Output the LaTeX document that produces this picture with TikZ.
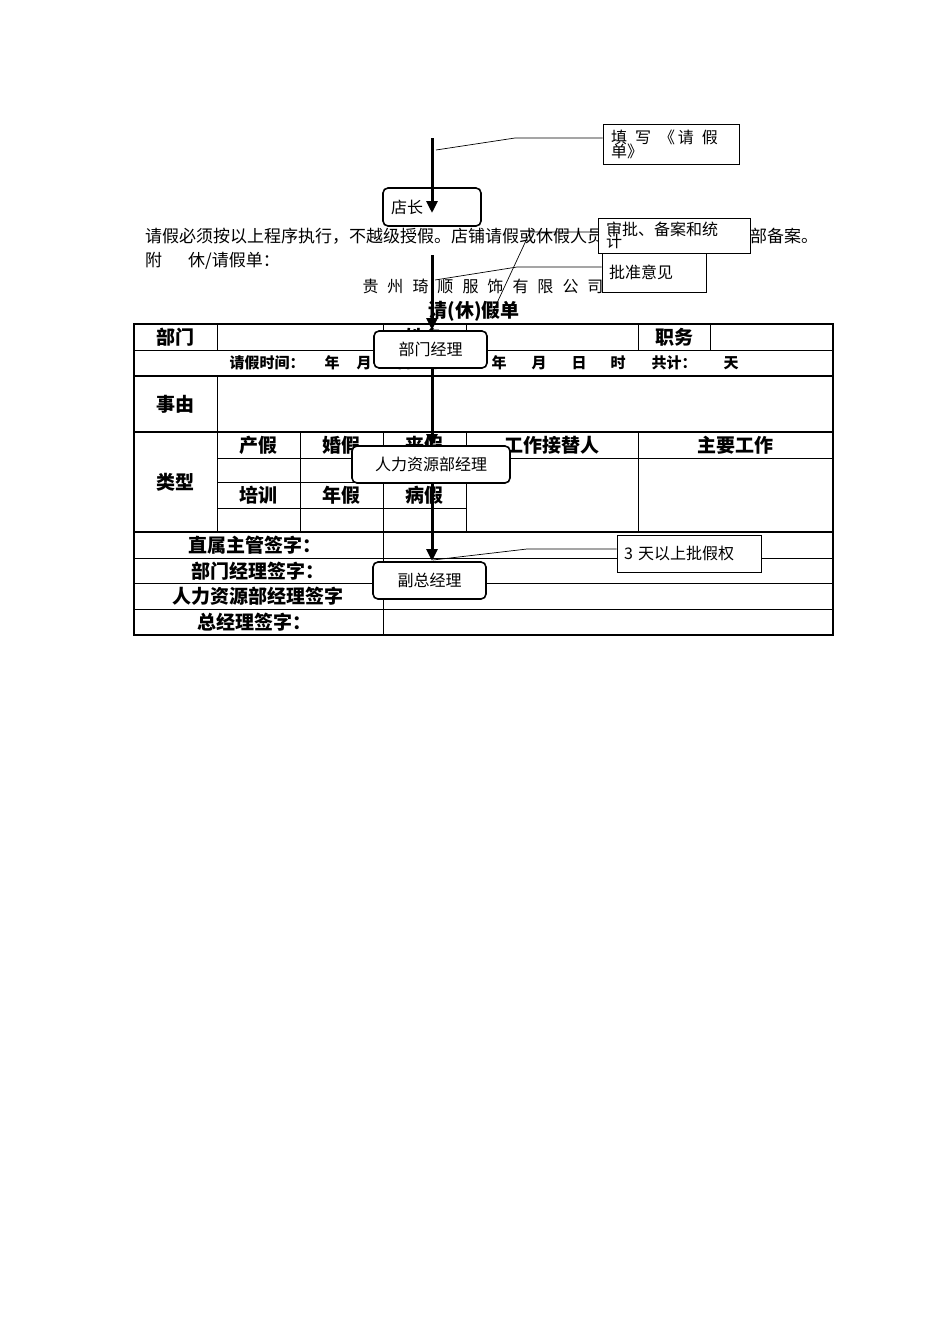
\documentclass[tikz,border=0pt]{standalone}
\usepackage{fontspec}
\setmainfont{Noto Sans CJK SC}
\usetikzlibrary{arrows.meta}
\begin{document}
\begin{tikzpicture}[x=1pt,y=-1pt,
  grid/.style={line width=1pt},
  thick grid/.style={line width=1.6pt},
  flowbox/.style={draw,line width=1.6pt,rounded corners=5pt,fill=white,font=\fontsize{16}{18}\selectfont,inner sep=0pt},
  callout/.style={draw,line width=0.8pt,fill=white,font=\fontsize{16}{16}\selectfont,inner sep=0pt,align=left},
  flowarrow/.style={line width=3pt,-{Triangle[length=12pt,width=11pt]}},
  lead/.style={line width=0.7pt},
  lbl/.style={font=\bfseries\fontsize{19}{21}\selectfont},
  rw/.style={font=\bfseries\fontsize{15}{17}\selectfont,anchor=west},
  body/.style={font=\fontsize{17}{19}\selectfont,anchor=west,inner sep=0pt}]
\useasboundingbox (0,0) rectangle (950,1344);
% texts
\node[body] (p1) at (145,236) {请假必须按以上程序执行，不越级授假。店铺请假或休假人员};
\node[body] (p1b) at (750,236) {部备案。};
\node[body] (p2) at (145,261) {附\hspace{26pt}休/请假单：};
\node[font=\fontsize{16}{18}\selectfont,inner sep=0pt] (co) at (483,286) {贵\hspace{9pt}州\hspace{9pt}琦\hspace{9pt}顺\hspace{9pt}服\hspace{9pt}饰\hspace{9pt}有\hspace{9pt}限\hspace{9pt}公\hspace{9pt}司};
\node[lbl,inner sep=0pt] (title) at (474,311) {请(休)假单};
% table
\draw[thick grid] (134,324) rectangle (833,635);
\draw[grid] (134,350)--(833,350);
\draw[thick grid] (134,376)--(833,376);
\draw[thick grid] (134,432)--(833,432);
\draw[grid] (217,458)--(833,458);
\draw[grid] (217,482)--(466,482);
\draw[grid] (217,508)--(466,508);
\draw[thick grid] (134,532)--(833,532);
\draw[grid] (134,558)--(833,558);
\draw[grid] (134,583)--(833,583);
\draw[grid] (134,609)--(833,609);
\draw[grid] (217,324)--(217,350);
\draw[grid] (383,324)--(383,350);
\draw[grid] (466,324)--(466,350);
\draw[grid] (638,324)--(638,350);
\draw[grid] (710,324)--(710,350);
\draw[grid] (217,376)--(217,532);
\draw[grid] (300,432)--(300,532);
\draw[grid] (383,432)--(383,635);
\draw[grid] (466,432)--(466,532);
\draw[grid] (638,432)--(638,532);
\node[lbl] (t1) at (175.5,337) {部门};
\node[lbl] (t1b) at (424.5,337) {姓名};
\node[lbl] (t2) at (674,337) {职务};
\node[rw] (r1) at (226,363) {请假时间：};
\node[rw] (r2) at (321,363) {年};
\node[rw] (r3) at (353,363) {月};
\node[rw] (r4) at (393,363) {日\hspace{14pt}时至};
\node[rw] (r5) at (488,363) {年};
\node[rw] (r6) at (528,363) {月};
\node[rw] (r7) at (568,363) {日};
\node[rw] (r8) at (607,363) {时};
\node[rw] (r9) at (648,363) {共计：};
\node[rw] (r10) at (720,363) {天};
\node[lbl] (t4) at (175.5,404) {事由};
\node[lbl] (t5) at (175.5,482) {类型};
\node[lbl] (t6) at (258.5,445) {产假};
\node[lbl] (t7) at (341.5,445) {婚假};
\node[lbl] (t8) at (424.5,445) {丧假};
\node[lbl] (t9) at (552,445) {工作接替人};
\node[lbl] (t10) at (735.5,445) {主要工作};
\node[lbl] (t11) at (258.5,495) {培训};
\node[lbl] (t12) at (341.5,495) {年假};
\node[lbl] (t13) at (424.5,495) {病假};
\node[lbl] (s1) at (255,545) {直属主管签字：};
\node[lbl] (s2) at (258,571) {部门经理签字：};
\node[lbl] (s3) at (258,596) {人力资源部经理签字};
\node[lbl] (s4) at (254,622) {总经理签字：};
% flow
\coordinate (a0) at (432,138);
\node[flowbox,minimum width=98pt,minimum height=38pt,text width=82pt,align=left] (dz) at (432,207) {店长};
\coordinate (a1) at (432,255);
\node[flowbox,minimum width=113pt,minimum height=37pt] (bm) at (430.5,349.5) {部门经理};
\node[flowbox,minimum width=158pt,minimum height=37pt] (hr) at (431,464.5) {人力资源部经理};
\node[flowbox,minimum width=113pt,minimum height=37pt] (fz) at (429.5,580.5) {副总经理};
\draw[flowarrow] (a0)--(432,213);
\draw[flowarrow] (a1)--(432,330);
\draw[flowarrow] (432,368)--(432,446);
\draw[flowarrow] (432,483)--(432,561);
% callouts
\node[callout,minimum width=136pt,minimum height=40pt,text width=120pt] (c1) at (671,144) {填\hspace{8pt}写\hspace{8pt}《\hspace{3pt}请\hspace{8pt}假\\[-2pt]单》};
\node[callout,minimum width=104pt,minimum height=39pt,text width=90pt] (c3) at (654,272.5) {批准意见};
\node[callout,minimum width=152pt,minimum height=35pt,text width=136pt] (c2) at (674,235.5) {审批、备案和统\\[-4pt]计};
\node[callout,minimum width=144pt,minimum height=37pt,text width=130pt] (c4) at (689,553.5) {3 天以上批假权};
\coordinate (l1) at (515,138);
\draw[lead] (436,150)--(l1)--(c1.west |- l1);
\coordinate (l2) at (517,267);
\draw[lead] (435,280)--(l2)--(c3.west |- l2);
\coordinate (l3) at (530,232);
\draw[lead] (490,318)--(l3)--(c2.west |- l3);
\coordinate (l4) at (527,549);
\draw[lead] (433,560)--(l4)--(c4.west |- l4);
\end{tikzpicture}
\end{document}
